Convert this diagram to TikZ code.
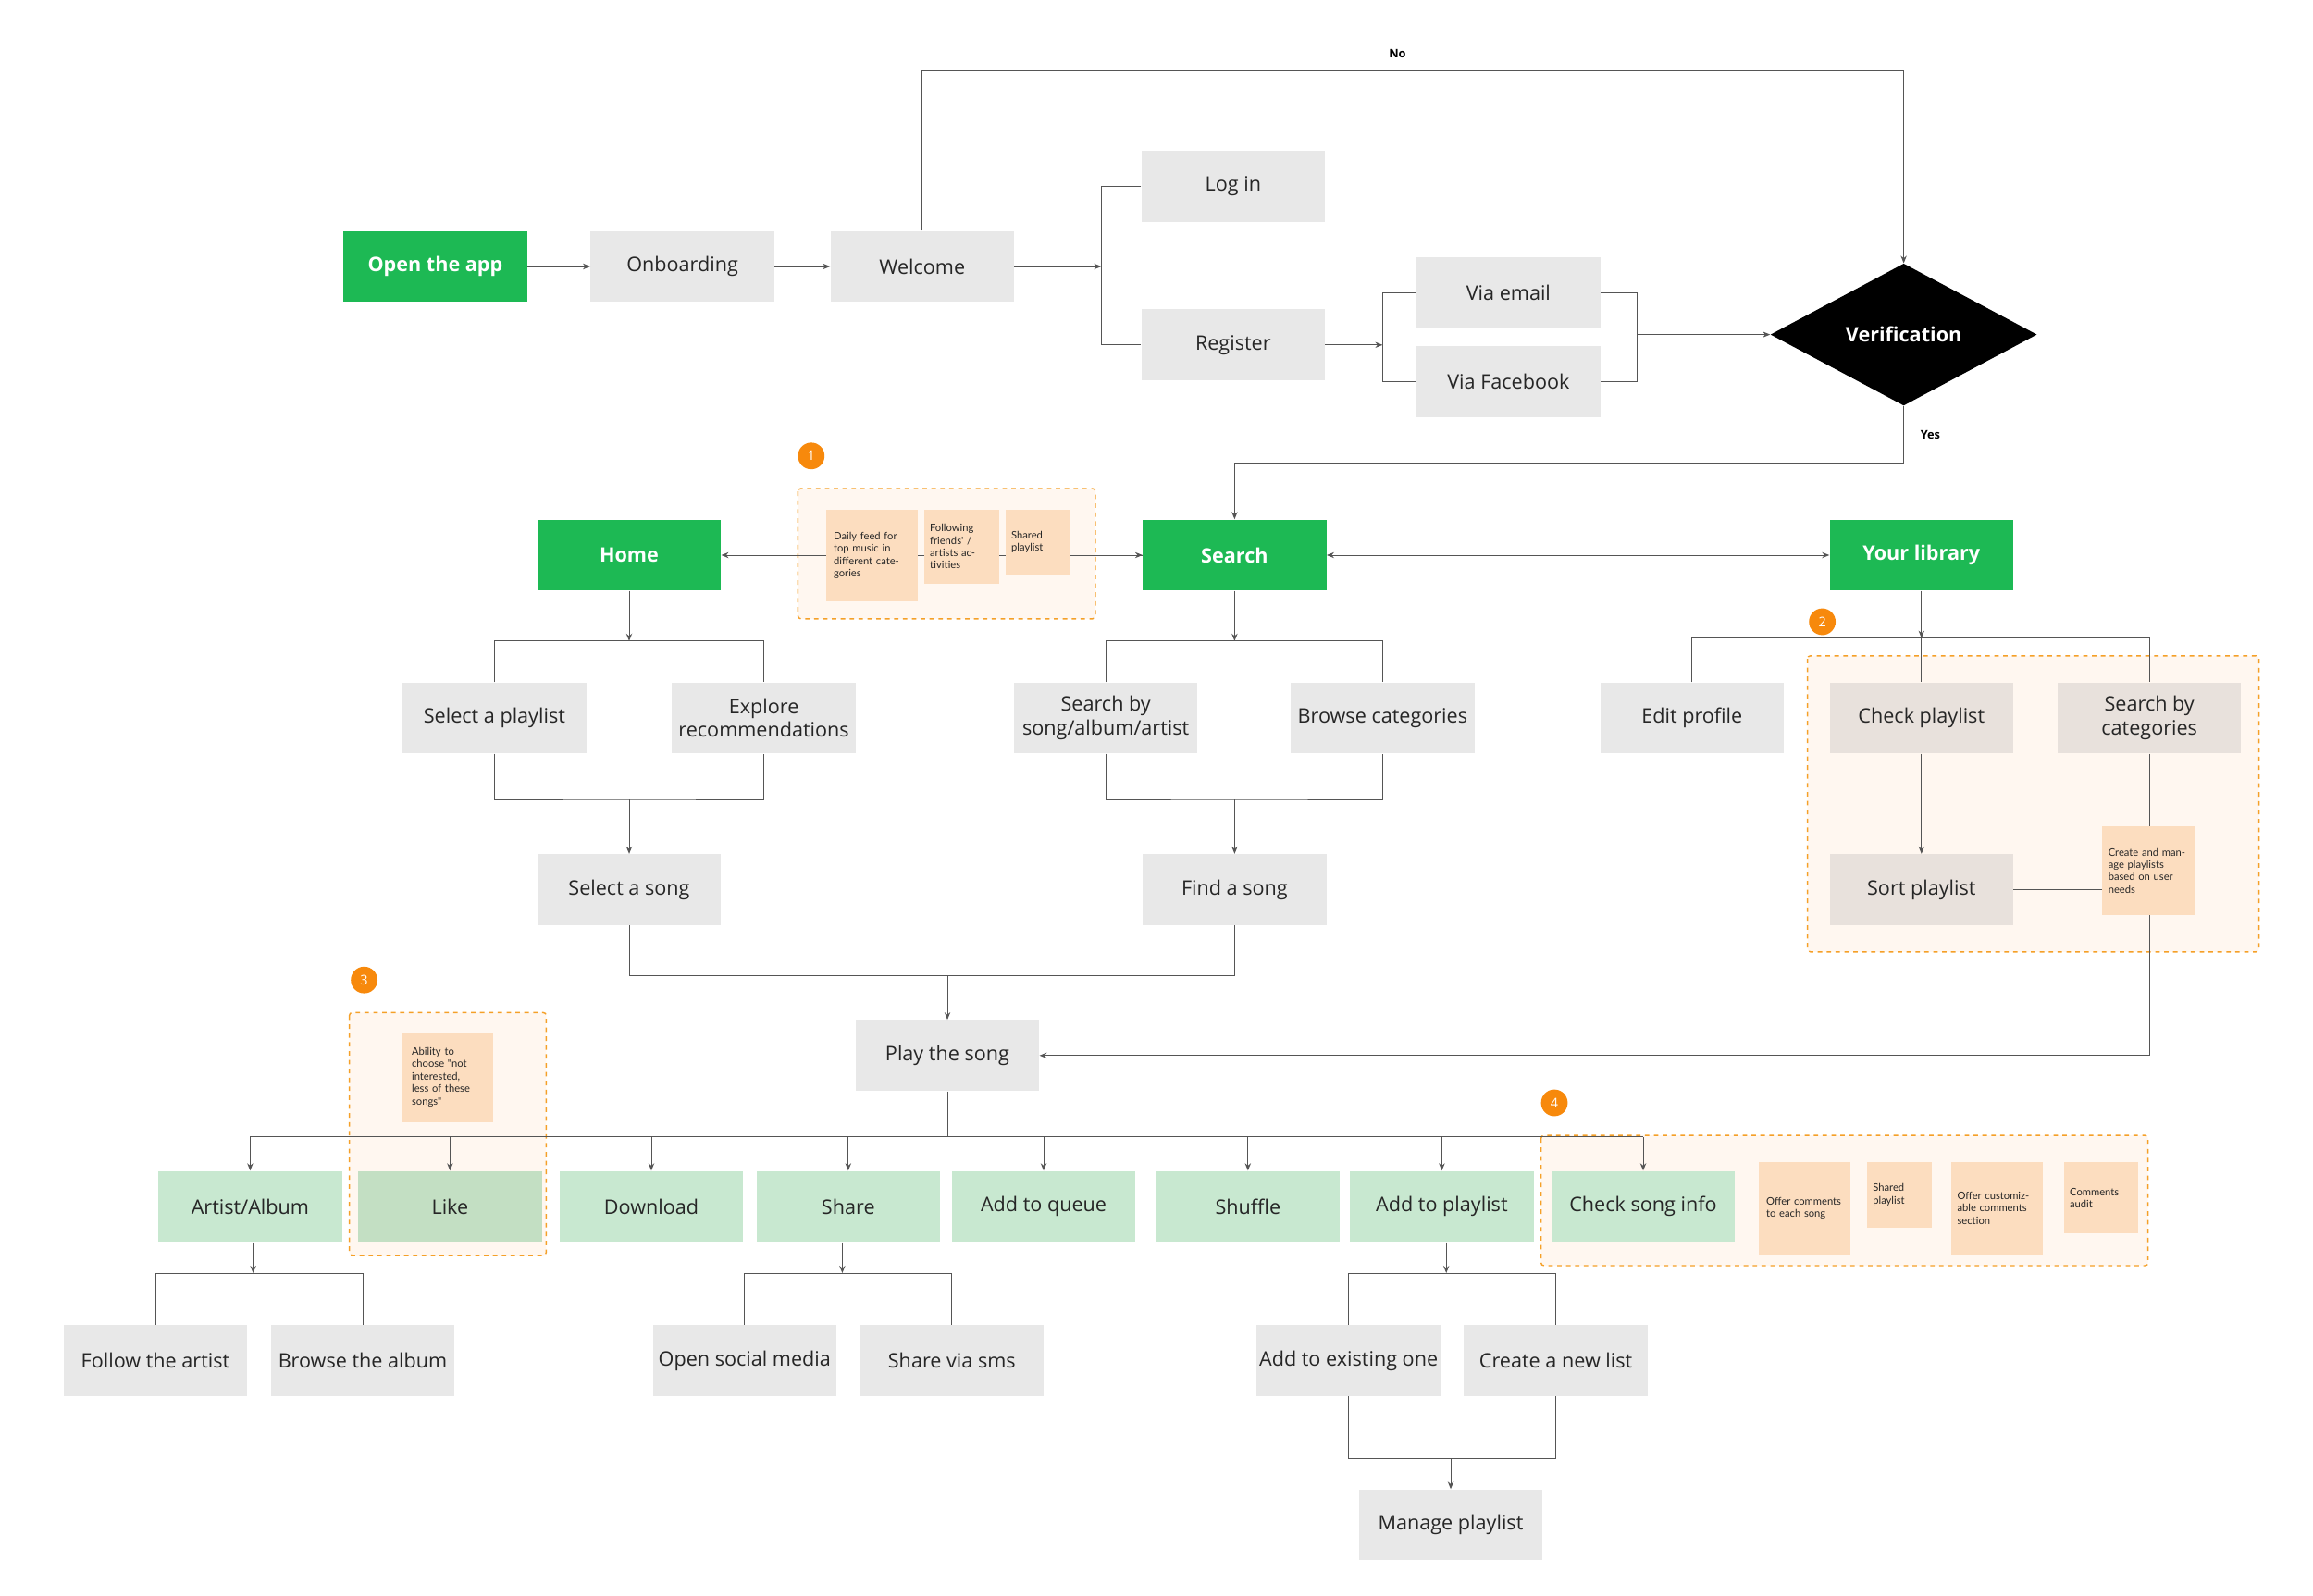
\documentclass[tikz,border=0pt]{standalone}
\usepackage{fontspec}
\setmainfont{Open Sans}
\newfontfamily\notefont{Lato}
\usetikzlibrary{arrows.meta,shapes.geometric,calc}
\definecolor{sgreen}{HTML}{1DB954}
\definecolor{lgreen}{HTML}{C8E8D0}
\definecolor{likegreen}{HTML}{C3DFC3}
\definecolor{bgray}{HTML}{E8E8E8}
\definecolor{beige}{HTML}{E8E1DC}
\definecolor{peach}{HTML}{FCDDBF}
\definecolor{grpfill}{HTML}{FFF7F0}
\definecolor{orng}{HTML}{F5A028}
\definecolor{badge}{HTML}{F7890C}
\definecolor{ln}{HTML}{555555}
\begin{document}
\begin{tikzpicture}[x=1pt,y=-1pt,
 box/.style={rectangle,minimum width=124pt,minimum height=48pt,inner sep=1pt,align=center,font=\fontsize{13.5}{16}\selectfont,text=black!85},
 gray/.style={box,fill=bgray},
 grn/.style={box,fill=sgreen,text=white,font=\fontsize{13.5}{16}\selectfont\bfseries},
 lg/.style={box,fill=lgreen},
 bg/.style={box,fill=beige},
 note/.style={rectangle,fill=peach,anchor=north west,align=left,inner sep=0pt,font=\notefont\fontsize{7}{8.4}\selectfont,text=black!85},
 grp/.style={draw=orng,dashed,fill=grpfill,line width=0.9pt,rounded corners=2pt},
 bdg/.style={circle,fill=badge,text=white,minimum size=18pt,inner sep=0pt,font=\fontsize{9}{10}\selectfont},
 c/.style={draw=ln,line width=0.6pt},
 a/.style={c,-{Stealth[length=5pt,width=4pt]}},
 lab/.style={font=\fontsize{8}{9}\selectfont\bfseries}]
\useasboundingbox (0,0) rectangle (1562.5,1078);
\fill[white] (0,0) rectangle (1562.5,1078);
% groups
\draw[grp] (539,330) rectangle (740,418);
\draw[grp] (1221,443) rectangle (1526,643);
\draw[grp] (236,684) rectangle (369,848);
\draw[grp] (1041,767) rectangle (1451,855);
\node[bdg] (b1) at (548,308) {1};
\node[bdg] (b2) at (1231,420) {2};
\node[bdg] (b3) at (246,662) {3};
\node[bdg] (b4) at (1050,745) {4};
% top row
\node[grn] (open) at (294,180) {Open the app};
\node[gray] (onb) at (461,180) {Onboarding};
\node[gray] (wel) at (623,180) {Welcome};
\node[gray] (login) at (833,126) {Log in};
\node[gray] (reg) at (833,233) {Register};
\node[gray] (email) at (1019,198) {Via email};
\node[gray] (fb) at (1019,258) {Via Facebook};
\node[diamond,fill=black,text=white,minimum width=180pt,minimum height=96pt,aspect=1.875,inner sep=0pt,font=\fontsize{13.5}{16}\selectfont\bfseries] (ver) at (1286,226) {Verification};
\coordinate (wj) at (744,180);
\coordinate (rj) at (934,233);
\coordinate (ej) at (1106,226);
\draw[a] (open) -- (onb);
\draw[a] (onb) -- (wel);
\draw[a] (wel) -- (wj);
\draw[c] (login.west) -| (wj) |- (reg.west);
\draw[a] (reg) -- (rj);
\draw[c] (email.west) -| (rj) |- (fb.west);
\draw[c] (email.east) -| (ej) |- (fb.east);
\draw[a] (ej) -- (ver.west);
\coordinate (no) at (944,48);
\draw[a] (wel.north) |- (no) -| (ver.north);
\node[lab] at (944,36) {No};
% row 2
\node[grn] (home) at (425,375) {Home};
\node[grn] (search) at (834,375) {Search};
\node[grn] (lib) at (1298,375) {Your library};
\coordinate (yes) at (1060,313);
\draw[a] (ver.south) |- (yes) -| (search.north);
\node[lab] at (1304,294) {Yes};
\draw[a] (search.west) -- (home.east);
\coordinate (sj) at (756,375);
\draw[a] (sj) -- (search.west);
\draw[c,{Stealth[length=5pt,width=4pt]}-{Stealth[length=5pt,width=4pt]}] (search.east) -- (lib.west);
\node[note,minimum width=62pt,minimum height=62pt,text width=52pt,inner xsep=5pt] (n1) at (558,344) {Daily feed for top music in different categories};
\node[note,minimum width=51pt,minimum height=50pt,text width=43pt,inner xsep=4pt] (n2) at (624,344) {Following friends' / artists activities};
\node[note,minimum width=44pt,minimum height=44pt,text width=36pt,inner xsep=4pt] (n3) at (679,344) {Shared playlist};
% home branch
\node[gray] (selpl) at (334,485) {Select a playlist};
\node[gray] (expl) at (516,485) {Explore\\recommendations};
\node[gray] (selsong) at (425,601) {Select a song};
\coordinate (hj) at (425,433);
\draw[a] (home) -- (hj);
\draw[c] (selpl.north) |- (hj) -| (expl.north);
\coordinate (hb) at (425,540);
\draw[c] (selpl.south) |- (hb) -| (expl.south);
\draw[a] (hb) -- (selsong);
% search branch
\node[gray] (sby) at (747,485) {Search by\\song/album/artist};
\node[gray] (brow) at (934,485) {Browse categories};
\node[gray] (find) at (834,601) {Find a song};
\coordinate (sj2) at (834,433);
\draw[a] (search) -- (sj2);
\draw[c] (sby.north) |- (sj2) -| (brow.north);
\coordinate (sb) at (834,540);
\draw[c] (sby.south) |- (sb) -| (brow.south);
\draw[a] (sb) -- (find);
% library branch
\node[gray] (edit) at (1143,485) {Edit profile};
\node[bg] (chk) at (1298,485) {Check playlist};
\node[bg] (sbc) at (1452,485) {Search by\\categories};
\node[bg] (sort) at (1298,601) {Sort playlist};
\coordinate (lj) at (1298,431);
\draw[a] (lib) -- (lj);
\draw[c] (edit.north) |- (lj) -| (sbc.north);
\draw[c] (lj) -- (chk.north);
\draw[a] (chk) -- (sort);
\node[note,minimum width=62pt,minimum height=60pt,text width=54pt,inner xsep=4pt] (n5) at (1420,558) {Create and manage playlists based on user needs};
\draw[c] (sbc.south) -- (n5.north -| sbc);
\draw[c] (sort.east) -- (n5.west |- sort);
% play
\node[gray] (play) at (640,713) {Play the song};
\coordinate (pj) at (640,659);
\draw[c] (selsong.south) |- (pj) -| (find.south);
\draw[a] (pj) -- (play);
\draw[a] (n5.south -| sbc) |- (play.east);
% row 3
\node[lg] (art) at (169,815) {Artist/Album};
\node[box,fill=likegreen] (like) at (304,815) {Like};
\node[lg] (down) at (440,815) {Download};
\node[lg] (share) at (573,815) {Share};
\node[lg] (queue) at (705,815) {Add to queue};
\node[lg] (shuf) at (843,815) {Shuffle};
\node[lg] (addpl) at (974,815) {Add to playlist};
\node[lg] (info) at (1110,815) {Check song info};
\coordinate (bj) at (640,768);
\draw[c] (play) -- (bj);
\draw[c] (art.north |- bj) -- (info.north |- bj);
\foreach \n in {art,like,down,share,queue,shuf,addpl,info}
  \draw[a] (\n.north |- bj) -- (\n.north);
\node[note,minimum width=62pt,minimum height=61pt,text width=48pt,inner xsep=7pt] (n4) at (271,697) {Ability to choose "not interested, less of these songs"};
\node[note,minimum width=61pt,minimum height=62pt,text width=52pt,inner xsep=5pt] (n6) at (1188,785) {Offer comments to each song};
\node[note,minimum width=44pt,minimum height=44pt,text width=36pt,inner xsep=4pt] (n7) at (1261,785) {Shared playlist};
\node[note,minimum width=62pt,minimum height=62pt,text width=54pt,inner xsep=4pt] (n8) at (1318,785) {Offer customizable comments section};
\node[note,minimum width=49pt,minimum height=48pt,text width=42pt,inner xsep=4pt] (n9) at (1394,785) {Comments audit};
% row 4
\node[gray] (follow) at (105,919) {Follow the artist};
\node[gray] (browse) at (245,919) {Browse the album};
\node[gray] (social) at (503,919) {Open social media};
\node[gray] (sms) at (643,919) {Share via sms};
\node[gray] (exist) at (911,919) {Add to existing one};
\node[gray] (newl) at (1051,919) {Create a new list};
\node[gray] (manage) at (980,1030) {Manage playlist};
\coordinate (aj) at (171,860);
\draw[a] (art.south -| aj) -- (aj);
\draw[c] (follow.north) |- (aj) -| (browse.north);
\coordinate (shj) at (569,860);
\draw[a] (share.south -| shj) -- (shj);
\draw[c] (social.north) |- (shj) -| (sms.north);
\coordinate (apj) at (977,860);
\draw[a] (addpl.south -| apj) -- (apj);
\draw[c] (exist.north) |- (apj) -| (newl.north);
\coordinate (mj) at (980,985);
\draw[c] (exist.south) |- (mj) -| (newl.south);
\draw[a] (mj) -- (manage);
\end{tikzpicture}
\end{document}
